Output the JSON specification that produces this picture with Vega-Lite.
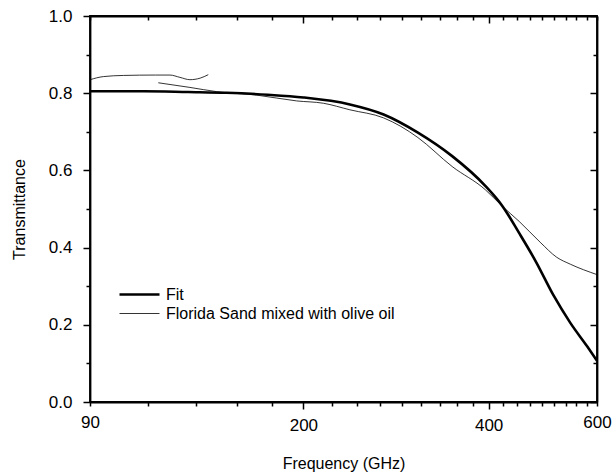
{
  "$schema": "https://vega.github.io/schema/vega-lite/v6.json",
  "autosize": "none",
  "width": 507,
  "height": 386,
  "padding": {"left": 90, "top": 16, "right": 19, "bottom": 73},
  "background": "white",
  "config": {
    "font": "Liberation Sans",
    "view": {"stroke": "black", "strokeWidth": 1.8},
    "axis": {
      "domainColor": "black",
      "domainWidth": 1.8,
      "tickColor": "black",
      "tickWidth": 1.5,
      "labelColor": "black",
      "titleColor": "black",
      "labelFont": "Liberation Sans",
      "titleFont": "Liberation Sans",
      "labelFontSize": 17,
      "titleFontSize": 16,
      "titleFontWeight": "normal",
      "grid": false
    }
  },
  "data": {
    "values": [
      {"f": 90, "t": 0.805, "series": "Fit", "seg": "fit"},
      {"f": 110, "t": 0.805, "series": "Fit", "seg": "fit"},
      {"f": 130, "t": 0.803, "series": "Fit", "seg": "fit"},
      {"f": 150, "t": 0.801, "series": "Fit", "seg": "fit"},
      {"f": 175, "t": 0.796, "series": "Fit", "seg": "fit"},
      {"f": 200, "t": 0.789, "series": "Fit", "seg": "fit"},
      {"f": 238, "t": 0.771, "series": "Fit", "seg": "fit"},
      {"f": 270, "t": 0.745, "series": "Fit", "seg": "fit"},
      {"f": 307, "t": 0.698, "series": "Fit", "seg": "fit"},
      {"f": 349, "t": 0.637, "series": "Fit", "seg": "fit"},
      {"f": 395, "t": 0.56, "series": "Fit", "seg": "fit"},
      {"f": 421, "t": 0.508, "series": "Fit", "seg": "fit"},
      {"f": 449, "t": 0.436, "series": "Fit", "seg": "fit"},
      {"f": 478, "t": 0.362, "series": "Fit", "seg": "fit"},
      {"f": 510, "t": 0.276, "series": "Fit", "seg": "fit"},
      {"f": 543, "t": 0.205, "series": "Fit", "seg": "fit"},
      {"f": 579, "t": 0.143, "series": "Fit", "seg": "fit"},
      {"f": 600, "t": 0.107, "series": "Fit", "seg": "fit"},
      {"f": 90, "t": 0.835, "series": "Florida Sand mixed with olive oil", "seg": "a"},
      {"f": 94.6, "t": 0.843, "series": "Florida Sand mixed with olive oil", "seg": "a"},
      {"f": 102, "t": 0.846, "series": "Florida Sand mixed with olive oil", "seg": "a"},
      {"f": 115, "t": 0.847, "series": "Florida Sand mixed with olive oil", "seg": "a"},
      {"f": 121.4, "t": 0.847, "series": "Florida Sand mixed with olive oil", "seg": "a"},
      {"f": 126, "t": 0.841, "series": "Florida Sand mixed with olive oil", "seg": "a"},
      {"f": 130.8, "t": 0.835, "series": "Florida Sand mixed with olive oil", "seg": "a"},
      {"f": 135.9, "t": 0.839, "series": "Florida Sand mixed with olive oil", "seg": "a"},
      {"f": 140.1, "t": 0.848, "series": "Florida Sand mixed with olive oil", "seg": "a"},
      {"f": 116.2, "t": 0.827, "series": "Florida Sand mixed with olive oil", "seg": "b"},
      {"f": 130.8, "t": 0.815, "series": "Florida Sand mixed with olive oil", "seg": "b"},
      {"f": 144.6, "t": 0.804, "series": "Florida Sand mixed with olive oil", "seg": "b"},
      {"f": 168, "t": 0.795, "series": "Florida Sand mixed with olive oil", "seg": "b"},
      {"f": 195, "t": 0.78, "series": "Florida Sand mixed with olive oil", "seg": "b"},
      {"f": 215.5, "t": 0.774, "series": "Florida Sand mixed with olive oil", "seg": "b"},
      {"f": 238, "t": 0.757, "series": "Florida Sand mixed with olive oil", "seg": "b"},
      {"f": 270, "t": 0.736, "series": "Florida Sand mixed with olive oil", "seg": "b"},
      {"f": 288, "t": 0.714, "series": "Florida Sand mixed with olive oil", "seg": "b"},
      {"f": 307, "t": 0.685, "series": "Florida Sand mixed with olive oil", "seg": "b"},
      {"f": 349, "t": 0.61, "series": "Florida Sand mixed with olive oil", "seg": "b"},
      {"f": 395, "t": 0.55, "series": "Florida Sand mixed with olive oil", "seg": "b"},
      {"f": 419, "t": 0.51, "series": "Florida Sand mixed with olive oil", "seg": "b"},
      {"f": 449, "t": 0.467, "series": "Florida Sand mixed with olive oil", "seg": "b"},
      {"f": 485, "t": 0.414, "series": "Florida Sand mixed with olive oil", "seg": "b"},
      {"f": 516, "t": 0.375, "series": "Florida Sand mixed with olive oil", "seg": "b"},
      {"f": 543, "t": 0.357, "series": "Florida Sand mixed with olive oil", "seg": "b"},
      {"f": 600, "t": 0.33, "series": "Florida Sand mixed with olive oil", "seg": "b"}
    ]
  },
  "layer": [
    {
      "mark": {"type": "line", "color": "black", "interpolate": "monotone", "clip": true},
      "encoding": {
        "x": {
          "field": "f", "type": "quantitative",
          "scale": {"type": "log", "domain": [90, 600], "nice": false},
          "axis": {
            "orient": "bottom",
            "title": "Frequency (GHz)",
            "values": [90, 112, 134, 156, 178, 200, 222.2, 244.4, 266.7, 288.9, 311.1, 333.3, 355.6, 377.8, 400, 422.2, 444.4, 466.7, 488.9, 511.1, 533.3, 555.6, 577.8, 600],
            "labelExpr": "(datum.value == 90 || datum.value == 200 || datum.value == 400 || datum.value == 600) ? format(datum.value, 'd') : ''",
            "tickSize": {"condition": {"test": "datum.value == 200 || datum.value == 400", "value": 7}, "value": 4},
            "labelPadding": 8,
            "titlePadding": 22,
            "labelFlush": false,
            "labelOverlap": false
          }
        },
        "y": {
          "field": "t", "type": "quantitative",
          "scale": {"domain": [0, 1], "nice": false},
          "axis": {
            "orient": "left",
            "title": "Transmittance",
            "values": [0, 0.1, 0.2, 0.3, 0.4, 0.5, 0.6, 0.7, 0.8, 0.9, 1.0],
            "labelExpr": "(round(datum.value * 10) % 2 == 0) ? format(datum.value, '.1f') : ''",
            "tickSize": {"condition": {"test": "round(datum.value * 10) % 2 == 0", "value": 7}, "value": 4},
            "labelPadding": 11,
            "titlePadding": 21,
            "labelFlush": false,
            "labelOverlap": false
          }
        },
        "detail": {"field": "seg", "type": "nominal"},
        "strokeWidth": {
          "field": "series", "type": "nominal",
          "scale": {"domain": ["Fit", "Florida Sand mixed with olive oil"], "range": [2.6, 0.8]},
          "legend": {
            "title": null,
            "orient": "none",
            "legendX": 38,
            "legendY": 267,
            "padding": 0,
            "symbolType": "M-2,0H2",
            "symbolSize": 400,
            "symbolStrokeColor": "black",
            "symbolFillColor": "transparent",
            "labelFontSize": 16,
            "labelFont": "Liberation Sans",
            "labelColor": "black",
            "labelOffset": 15,
            "labelLimit": 0,
            "rowPadding": 0
          }
        }
      }
    },
    {
      "mark": {"type": "line", "opacity": 0},
      "encoding": {
        "x": {
          "field": "f", "type": "quantitative",
          "axis": {
            "orient": "top",
            "title": null,
            "labels": false,
            "values": [90, 112, 134, 156, 178, 200, 222.2, 244.4, 266.7, 288.9, 311.1, 333.3, 355.6, 377.8, 400, 422.2, 444.4, 466.7, 488.9, 511.1, 533.3, 555.6, 577.8, 600],
            "tickSize": {"condition": {"test": "datum.value == 200 || datum.value == 400", "value": -7}, "value": -4}
          }
        },
        "y": {
          "field": "t", "type": "quantitative",
          "axis": {
            "orient": "right",
            "title": null,
            "labels": false,
            "values": [0, 0.1, 0.2, 0.3, 0.4, 0.5, 0.6, 0.7, 0.8, 0.9, 1.0],
            "tickSize": {"condition": {"test": "round(datum.value * 10) % 2 == 0", "value": -7}, "value": -4}
          }
        },
        "detail": {"field": "seg", "type": "nominal"}
      }
    }
  ]
}
